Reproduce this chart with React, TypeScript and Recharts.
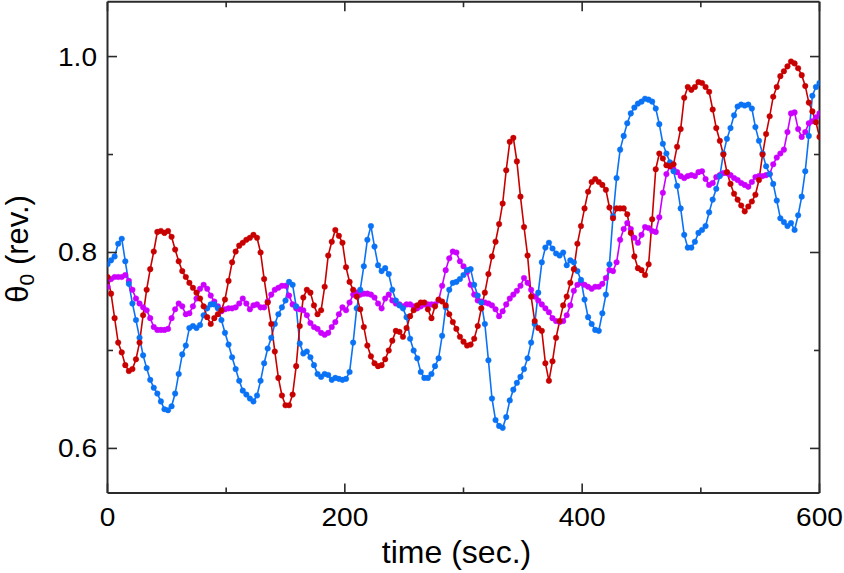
import React from 'react';
import { LineChart, Line, XAxis, YAxis } from 'recharts';

const STEP = 3;

const RED = [
  0.775, 0.758, 0.733, 0.708, 0.698, 0.685, 0.679, 0.681, 0.691, 0.708,
  0.736, 0.762, 0.783, 0.801, 0.821, 0.822, 0.820, 0.822, 0.816, 0.803,
  0.791, 0.781, 0.775, 0.769, 0.764, 0.759, 0.753, 0.745, 0.734, 0.727,
  0.733, 0.737, 0.741, 0.752, 0.771, 0.790, 0.801, 0.807, 0.810, 0.813,
  0.815, 0.818, 0.815, 0.800, 0.773, 0.749, 0.727, 0.699, 0.672, 0.654,
  0.644, 0.644, 0.655, 0.684, 0.725, 0.754, 0.762, 0.759, 0.746, 0.737,
  0.741, 0.765, 0.797, 0.811, 0.823, 0.817, 0.810, 0.785, 0.770, 0.762,
  0.755, 0.742, 0.724, 0.705, 0.694, 0.687, 0.684, 0.685, 0.691, 0.700,
  0.710, 0.720, 0.719, 0.714, 0.723, 0.735, 0.741, 0.746, 0.749, 0.749,
  0.742, 0.733, 0.745, 0.752, 0.750, 0.746, 0.737, 0.729, 0.722, 0.714,
  0.709, 0.705, 0.706, 0.712, 0.725, 0.743, 0.759, 0.778, 0.796, 0.811,
  0.829, 0.850, 0.884, 0.913, 0.917, 0.893, 0.857, 0.826, 0.797, 0.755,
  0.730, 0.723, 0.720, 0.687, 0.669, 0.689, 0.713, 0.730, 0.746, 0.755,
  0.769, 0.783, 0.809, 0.827, 0.845, 0.862, 0.872, 0.875, 0.872, 0.869,
  0.864, 0.846, 0.835, 0.845, 0.845, 0.845, 0.839, 0.820, 0.796, 0.784,
  0.782, 0.777, 0.788, 0.834, 0.885, 0.901, 0.896, 0.889, 0.888, 0.890,
  0.908, 0.926, 0.958, 0.969, 0.966, 0.969, 0.974, 0.973, 0.969, 0.964,
  0.946, 0.927, 0.914, 0.900, 0.882, 0.870, 0.860, 0.854, 0.848, 0.842,
  0.847, 0.852, 0.859, 0.874, 0.900, 0.921, 0.939, 0.959, 0.969, 0.980,
  0.985, 0.990, 0.995, 0.993, 0.988, 0.981, 0.970, 0.953, 0.944, 0.933,
  0.918,
];

const BLUE = [
  0.788, 0.792, 0.796, 0.809, 0.814, 0.791, 0.768, 0.748, 0.731, 0.713,
  0.695, 0.682, 0.670, 0.662, 0.656, 0.648, 0.640, 0.639, 0.643, 0.656,
  0.676, 0.696, 0.705, 0.723, 0.725, 0.723, 0.726, 0.736, 0.743, 0.747,
  0.747, 0.743, 0.731, 0.718, 0.706, 0.693, 0.681, 0.669, 0.659, 0.655,
  0.651, 0.648, 0.654, 0.669, 0.687, 0.702, 0.713, 0.727, 0.737, 0.744,
  0.751, 0.770, 0.767, 0.745, 0.707, 0.697, 0.699, 0.693, 0.685, 0.676,
  0.673, 0.676, 0.675, 0.670, 0.672, 0.671, 0.670, 0.671, 0.678, 0.708,
  0.743, 0.762, 0.786, 0.813, 0.827, 0.806, 0.787, 0.781, 0.784, 0.778,
  0.762, 0.751, 0.746, 0.743, 0.734, 0.712, 0.700, 0.692, 0.678, 0.672,
  0.672, 0.676, 0.684, 0.692, 0.715, 0.744, 0.762, 0.769, 0.770, 0.773,
  0.777, 0.782, 0.783, 0.767, 0.756, 0.749, 0.727, 0.690, 0.651, 0.629,
  0.623, 0.621, 0.632, 0.649, 0.660, 0.667, 0.673, 0.681, 0.692, 0.708,
  0.727, 0.759, 0.790, 0.805, 0.810, 0.804, 0.799, 0.797, 0.800, 0.787,
  0.792, 0.790, 0.781, 0.772, 0.752, 0.734, 0.727, 0.721, 0.720, 0.738,
  0.757, 0.788, 0.837, 0.876, 0.905, 0.919, 0.932, 0.942, 0.948, 0.952,
  0.954, 0.957, 0.956, 0.954, 0.947, 0.931, 0.911, 0.901, 0.892, 0.883,
  0.868, 0.845, 0.818, 0.805, 0.805, 0.811, 0.820, 0.823, 0.827, 0.841,
  0.854, 0.865, 0.878, 0.901, 0.916, 0.927, 0.940, 0.949, 0.951, 0.950,
  0.951, 0.947, 0.928, 0.914, 0.901, 0.888, 0.880, 0.870, 0.853, 0.835,
  0.831, 0.827, 0.830, 0.823, 0.838, 0.857, 0.883, 0.919, 0.960, 0.969,
  0.973,
];

const MAGENTA = [
  0.765, 0.773, 0.775, 0.775, 0.775, 0.777, 0.771, 0.762, 0.753, 0.748,
  0.744, 0.741, 0.733, 0.724, 0.721, 0.721, 0.721, 0.722, 0.733, 0.742,
  0.748, 0.745, 0.737, 0.738, 0.745, 0.753, 0.763, 0.767, 0.763, 0.756,
  0.750, 0.745, 0.740, 0.742, 0.743, 0.743, 0.744, 0.748, 0.753, 0.748,
  0.742, 0.746, 0.747, 0.744, 0.744, 0.750, 0.757, 0.762, 0.764, 0.766,
  0.766, 0.756, 0.747, 0.743, 0.742, 0.741, 0.736, 0.728, 0.724, 0.722,
  0.718, 0.716, 0.718, 0.724, 0.729, 0.737, 0.744, 0.741, 0.749, 0.757,
  0.759, 0.757, 0.758, 0.758, 0.757, 0.754, 0.748, 0.743, 0.753, 0.757,
  0.751, 0.748, 0.747, 0.745, 0.747, 0.747, 0.745, 0.743, 0.745, 0.747,
  0.747, 0.747, 0.747, 0.751, 0.766, 0.782, 0.794, 0.801, 0.800, 0.791,
  0.786, 0.780, 0.767, 0.757, 0.751, 0.750, 0.749, 0.748, 0.746, 0.742,
  0.735, 0.740, 0.747, 0.753, 0.757, 0.761, 0.766, 0.774, 0.769, 0.762,
  0.755, 0.751, 0.747, 0.743, 0.739, 0.733, 0.730, 0.729, 0.730, 0.736,
  0.746, 0.761, 0.767, 0.769, 0.767, 0.765, 0.763, 0.765, 0.765, 0.768,
  0.774, 0.782, 0.781, 0.790, 0.813, 0.824, 0.830, 0.824, 0.815, 0.810,
  0.818, 0.826, 0.825, 0.822, 0.821, 0.836, 0.861, 0.880, 0.888, 0.885,
  0.882, 0.878, 0.876, 0.878, 0.879, 0.878, 0.882, 0.883, 0.875, 0.869,
  0.871, 0.877, 0.879, 0.881, 0.881, 0.879, 0.876, 0.874, 0.871, 0.869,
  0.867, 0.872, 0.877, 0.878, 0.878, 0.879, 0.880, 0.890, 0.897, 0.901,
  0.905, 0.923, 0.942, 0.943, 0.926, 0.918, 0.923, 0.932, 0.934, 0.938,
  0.942,
];

const X_TICKS = [0, 100, 200, 300, 400, 500, 600];
const X_LABELED = [0, 200, 400, 600];
const Y_TICKS = [0.6, 0.7, 0.8, 0.9, 1.0];
const Y_LABELED = [0.6, 0.8, 1.0];

const data = RED.map((r, i) => ({
  t: i * STEP,
  red: r,
  blue: BLUE[i],
  magenta: MAGENTA[i],
}));

const FRAME = '#2a2a2a';
const MAJOR = 9.5;
const MINOR = 5.5;
const TICK_FONT = '"Liberation Sans", Arial, Helvetica, sans-serif';

const isXMajor = (v: number) => X_LABELED.includes(v);
const isYMajor = (v: number) => Y_LABELED.some((m) => Math.abs(m - v) < 1e-6);

const BottomTick = (props: any) => {
  const { x, y, payload } = props;
  const v = payload.value;
  const major = isXMajor(v);
  return (
    <g>
      <line x1={x} x2={x} y1={y} y2={y - (major ? MAJOR : MINOR)} stroke={FRAME} strokeWidth={1.6} />
      {major && (
        <g transform={`translate(${x},${y + 33}) scale(1.08,1)`}>
          <text x={0} y={0} textAnchor="middle" fontFamily={TICK_FONT} fontSize={26} fill="#000">
            {v}
          </text>
        </g>
      )}
    </g>
  );
};

const TopTick = (props: any) => {
  const { x, y, payload } = props;
  const major = isXMajor(payload.value);
  return <line x1={x} x2={x} y1={y} y2={y + (major ? MAJOR : MINOR)} stroke={FRAME} strokeWidth={1.6} />;
};

const LeftTick = (props: any) => {
  const { x, y, payload } = props;
  const v = payload.value;
  const major = isYMajor(v);
  return (
    <g>
      <line x1={x} x2={x + (major ? MAJOR : MINOR)} y1={y} y2={y} stroke={FRAME} strokeWidth={1.6} />
      {major && (
        <g transform={`translate(${x - 10.5},${y + 9}) scale(1.08,1)`}>
          <text x={0} y={0} textAnchor="end" fontFamily={TICK_FONT} fontSize={26} fill="#000">
            {Number(v).toFixed(1)}
          </text>
        </g>
      )}
    </g>
  );
};

const RightTick = (props: any) => {
  const { x, y, payload } = props;
  const major = isYMajor(payload.value);
  return <line x1={x} x2={x - (major ? MAJOR : MINOR)} y1={y} y2={y} stroke={FRAME} strokeWidth={1.6} />;
};

const XTitle = (props: any) => {
  const vb = props.viewBox || {};
  const cx = vb.x + vb.width / 2 - 7;
  return (
    <text x={cx} y={vb.y + 70} textAnchor="middle" fontFamily={TICK_FONT} fontSize={32} fill="#000">
      time (sec.)
    </text>
  );
};

const YTitle = (props: any) => {
  const vb = props.viewBox || {};
  const cx = 28;
  const cy = vb.y + vb.height / 2 + 1.5;
  return (
    <text
      x={cx}
      y={cy}
      transform={`rotate(-90, ${cx}, ${cy})`}
      textAnchor="middle"
      fontFamily={TICK_FONT}
      fontSize={31}
      fill="#000"
    >
      θ
      <tspan fontSize={21} dy={6}>0</tspan>
      <tspan dy={-6}> (rev.)</tspan>
    </text>
  );
};

const SERIES = [
  { key: 'magenta', color: '#cc00ff' },
  { key: 'blue', color: '#0a72f5' },
  { key: 'red', color: '#c80000' },
];

export default function App() {
  return (
    <div style={{ position: 'absolute', left: 0, top: 0, width: 844, height: 573, background: '#fff' }}>
      <LineChart
        width={844}
        height={573}
        data={data}
        margin={{ top: 0.7, right: 23.5, bottom: 0, left: 7.5 }}
      >
        <XAxis
          xAxisId="b"
          dataKey="t"
          type="number"
          domain={[0, 600]}
          ticks={X_TICKS}
          allowDataOverflow
          orientation="bottom"
          height={80}
          tickSize={0}
          tickMargin={0}
          tickLine={false}
          axisLine={{ stroke: FRAME, strokeWidth: 2 }}
          tick={<BottomTick />}
          interval={0}
          label={<XTitle />}
        />
        <XAxis
          xAxisId="t"
          dataKey="t"
          type="number"
          domain={[0, 600]}
          ticks={X_TICKS}
          allowDataOverflow
          orientation="top"
          height={1}
          tickSize={0}
          tickMargin={0}
          tickLine={false}
          axisLine={{ stroke: FRAME, strokeWidth: 2 }}
          tick={<TopTick />}
          interval={0}
        />
        <YAxis
          yAxisId="l"
          type="number"
          domain={[0.5545, 1.056]}
          ticks={Y_TICKS}
          allowDataOverflow
          orientation="left"
          width={100}
          tickSize={0}
          tickMargin={0}
          tickLine={false}
          axisLine={{ stroke: FRAME, strokeWidth: 2 }}
          tick={<LeftTick />}
          interval={0}
          label={<YTitle />}
        />
        <YAxis
          yAxisId="r"
          type="number"
          domain={[0.5545, 1.056]}
          ticks={Y_TICKS}
          allowDataOverflow
          orientation="right"
          width={1}
          tickSize={0}
          tickMargin={0}
          tickLine={false}
          axisLine={{ stroke: FRAME, strokeWidth: 2 }}
          tick={<RightTick />}
          interval={0}
        />
        {SERIES.map((s) => (
          <Line
            key={s.key}
            xAxisId="b"
            yAxisId="l"
            type="linear"
            dataKey={s.key}
            stroke={s.color}
            strokeWidth={1.6}
            dot={{ r: 2.8, fill: s.color, stroke: s.color, strokeWidth: 0.4 }}
            activeDot={false}
            isAnimationActive={false}
          />
        ))}
      </LineChart>
    </div>
  );
}
